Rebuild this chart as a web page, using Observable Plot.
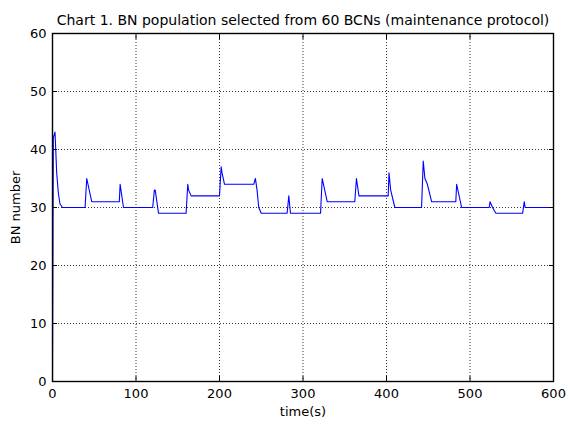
<!DOCTYPE html>
<html><head><meta charset="utf-8">
<script src="https://cdn.jsdelivr.net/npm/d3@7"></script>
<script src="https://cdn.jsdelivr.net/npm/@observablehq/plot@0.6"></script>
<style>html,body{margin:0;padding:0;background:#fff} svg{display:block}</style>
</head><body><div id="chart"></div>
<script>
const title = "Chart 1. BN population selected from 60 BCNs (maintenance protocol)";
const xLabel = "time(s)";
const yLabel = "BN number";
const xTicks = [0, 100, 200, 300, 400, 500, 600];
const yTicks = [0, 10, 20, 30, 40, 50, 60];
const time = [0, 1, 3, 5, 7, 9, 12,
  39, 41, 47,
  80, 81, 85,
  120, 122, 123, 127,
  160, 162, 163, 166,
  200, 202, 203, 206,
  241, 243, 245, 247, 250,
  281, 283, 285,
  321, 323, 329,
  362, 364, 367,
  402, 403, 405, 410,
  442, 444, 446, 449, 454,
  483, 484, 490,
  523, 524, 527, 531,
  563, 565, 566,
  600];
const bnNumber = [0, 42, 43, 36, 32.5, 30.6, 30,
  30, 35, 31,
  31, 34, 30,
  30, 33, 33, 29,
  29, 34, 33, 32,
  32, 37, 36, 34,
  34, 35, 33, 30, 29,
  29, 32, 29,
  29, 35, 31,
  31, 35, 32,
  32, 36, 33, 30,
  30, 38, 35, 34, 31,
  31, 34, 30,
  30, 31, 30, 29,
  29, 31, 30,
  30];
const data = time.map((t, i) => ({t, v: bnNumber[i]}));

const plot = Plot.plot({
  width: 569, height: 423,
  marginLeft: 52, marginRight: 16, marginTop: 33, marginBottom: 42,
  style: {fontFamily: "'DejaVu Sans', sans-serif", fontSize: "13px", color: "#000", background: "#fff", overflow: "visible"},
  x: {domain: [0, 600]},
  y: {domain: [0, 60]},
  marks: [
    Plot.gridX(xTicks, {stroke: "#000", strokeOpacity: 1, strokeWidth: 0.8, strokeDasharray: "1,2"}),
    Plot.gridY(yTicks, {stroke: "#000", strokeOpacity: 1, strokeWidth: 0.8, strokeDasharray: "1,2"}),
    Plot.line(data, {x: "t", y: "v", stroke: "#0000ff", strokeWidth: 1.1}),
    Plot.frame({stroke: "#000", strokeWidth: 1.4}),
    Plot.axisX(xTicks, {anchor: "bottom", tickSize: -5, text: null, label: null}),
    Plot.axisX(xTicks, {anchor: "top", tickSize: -5, text: null, label: null}),
    Plot.axisY(yTicks, {anchor: "left", tickSize: -5, text: null, label: null}),
    Plot.axisY(yTicks, {anchor: "right", tickSize: -5, text: null, label: null}),
    Plot.axisX(xTicks, {anchor: "bottom", tickSize: 0, tickPadding: 7, fontSize: 13, label: xLabel, labelAnchor: "center", labelArrow: "none", labelOffset: 34}),
    Plot.axisY(yTicks, {anchor: "left", tickSize: 0, tickPadding: 6, fontSize: 13, label: yLabel, labelAnchor: "center", labelArrow: "none", labelOffset: 42}),
    Plot.text([title], {frameAnchor: "top", dy: -18, fontSize: 14, fill: "#000"})
  ]
});
document.getElementById("chart").appendChild(plot);
</script>
</body></html>
